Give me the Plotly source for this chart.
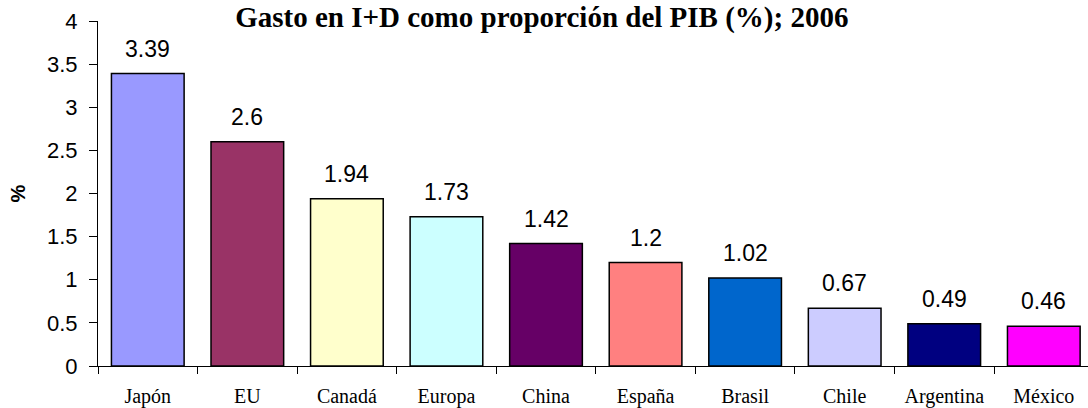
import plotly.graph_objects as go

paises = ["Japón", "EU", "Canadá", "Europa", "China", "España", "Brasil", "Chile", "Argentina", "México"]
gasto = [3.39, 2.6, 1.94, 1.73, 1.42, 1.2, 1.02, 0.67, 0.49, 0.46]
colores = ["#9999FF", "#993366", "#FFFFCC", "#CCFFFF", "#660066",
           "#FF8080", "#0066CC", "#CCCCFF", "#000080", "#FF00FF"]

fig = go.Figure(go.Bar(x=paises, y=gasto, marker=dict(color=colores, line=dict(color="black", width=1.5)),
                       width=0.73))

# etiquetas de valor sobre cada barra
for p, g in zip(paises, gasto):
    fig.add_annotation(x=p, y=g, text=str(g), showarrow=False, yanchor="bottom", yshift=10,
                       font=dict(family="Liberation Sans, Arial", size=23, color="black"))

fig.update_layout(
    width=1088, height=408,
    margin=dict(l=98, r=0, t=21, b=40),
    plot_bgcolor="white", paper_bgcolor="white",
    showlegend=False,
    title=dict(text="<b>Gasto en I+D como proporción del PIB (%); 2006</b>", x=0.498, xanchor="center",
               y=0.958, yanchor="middle",
               font=dict(family="Liberation Serif, Times New Roman", size=29, color="black")),
)
fig.update_xaxes(range=[-0.5, 9.444], showline=True, linecolor="black", linewidth=1,
                 ticks="outside", tickson="boundaries", ticklen=7, tickcolor="black",
                 ticklabelstandoff=12,
                 tickfont=dict(family="Liberation Serif, Times New Roman", size=20, color="black"),
                 showgrid=False)
fig.update_yaxes(range=[0, 4], dtick=0.5, showline=True, linecolor="black", linewidth=1,
                 ticks="outside", ticklen=8, tickcolor="black", showgrid=False, zeroline=False,
                 ticklabelstandoff=7,
                 tickfont=dict(family="Liberation Sans, Arial", size=22, color="black"),
                 title=dict(text="<b>%</b>", standoff=16,
                            font=dict(family="Liberation Sans, Arial", size=20, color="black")))

fig.write_html("out.html", config={"displayModeBar": False},
               post_script="document.body.style.margin='0px';")
